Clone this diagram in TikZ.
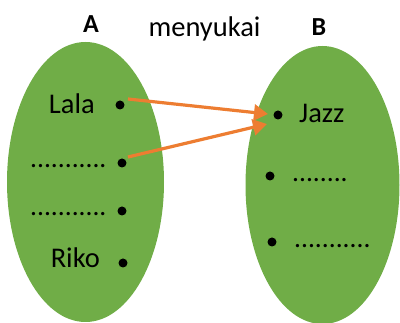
\documentclass[tikz,border=0pt]{standalone}
\usepackage{fontspec}
\setmainfont{Carlito}
\usetikzlibrary{arrows.meta}
\definecolor{setgreen}{HTML}{70AD47}
\definecolor{arrorange}{HTML}{ED7D31}
\begin{document}
\begin{tikzpicture}[x=1pt,y=-1pt,
  lbl/.style={inner sep=0pt,font=\fontsize{28.5}{31}\selectfont},
  dotrow/.style={inner sep=0pt,font=\fontsize{27.5}{30}\selectfont},
  ttl/.style={inner sep=0pt,font=\fontsize{26}{28}\selectfont\bfseries,anchor=base},
  pt/.style={circle,fill=black,inner sep=0pt,minimum size=9pt},
  setshape/.style={fill=setgreen,draw=none},
  maps/.style={draw=arrorange,line width=3.2pt,-{Triangle[length=14pt,width=16pt]}}]
\useasboundingbox (0,0) rectangle (400,323);
\clip (0,0) rectangle (400,323);
\fill[setshape] (85.5,182) ellipse [x radius=78.5, y radius=140];
\fill[setshape] (322.5,185) ellipse [x radius=77, y radius=139];
\node[ttl] (tA) at (91,33) {A};
\node[ttl] (tB) at (319,36) {B};
\node[lbl,anchor=base] (rel) at (204.5,37) {menyukai};
% set A
\node[lbl,anchor=base east] (lala) at (95,114) {Lala};
\node[dotrow,anchor=base west] (a2) at (30,168) {...........};
\node[dotrow,anchor=base west] (a3) at (30,216) {...........};
\node[lbl,anchor=base east] (riko) at (100,268) {Riko};
\node[pt] (pa1) at (120,105) {};
\node[pt] (pa2) at (122,163) {};
\node[pt] (pa3) at (122,211) {};
\node[pt] (pa4) at (123,263) {};
% set B
\node[pt] (pb1) at (278,115) {};
\node[pt] (pb2) at (270,176) {};
\node[pt] (pb3) at (272,242) {};
\node[lbl,anchor=base west] (jazz) at (299,123) {Jazz};
\node[dotrow,anchor=base west] (b2) at (292,182) {........};
\node[dotrow,anchor=base west] (b3) at (294,248) {...........};
% arrows
\coordinate (s1) at (128,99);
\coordinate (e1) at (268,114);
\coordinate (s2) at (128,157);
\coordinate (e2) at (267,124);
\draw[maps] (s1) -- (e1);
\draw[maps] (s2) -- (e2);
\end{tikzpicture}
\end{document}
